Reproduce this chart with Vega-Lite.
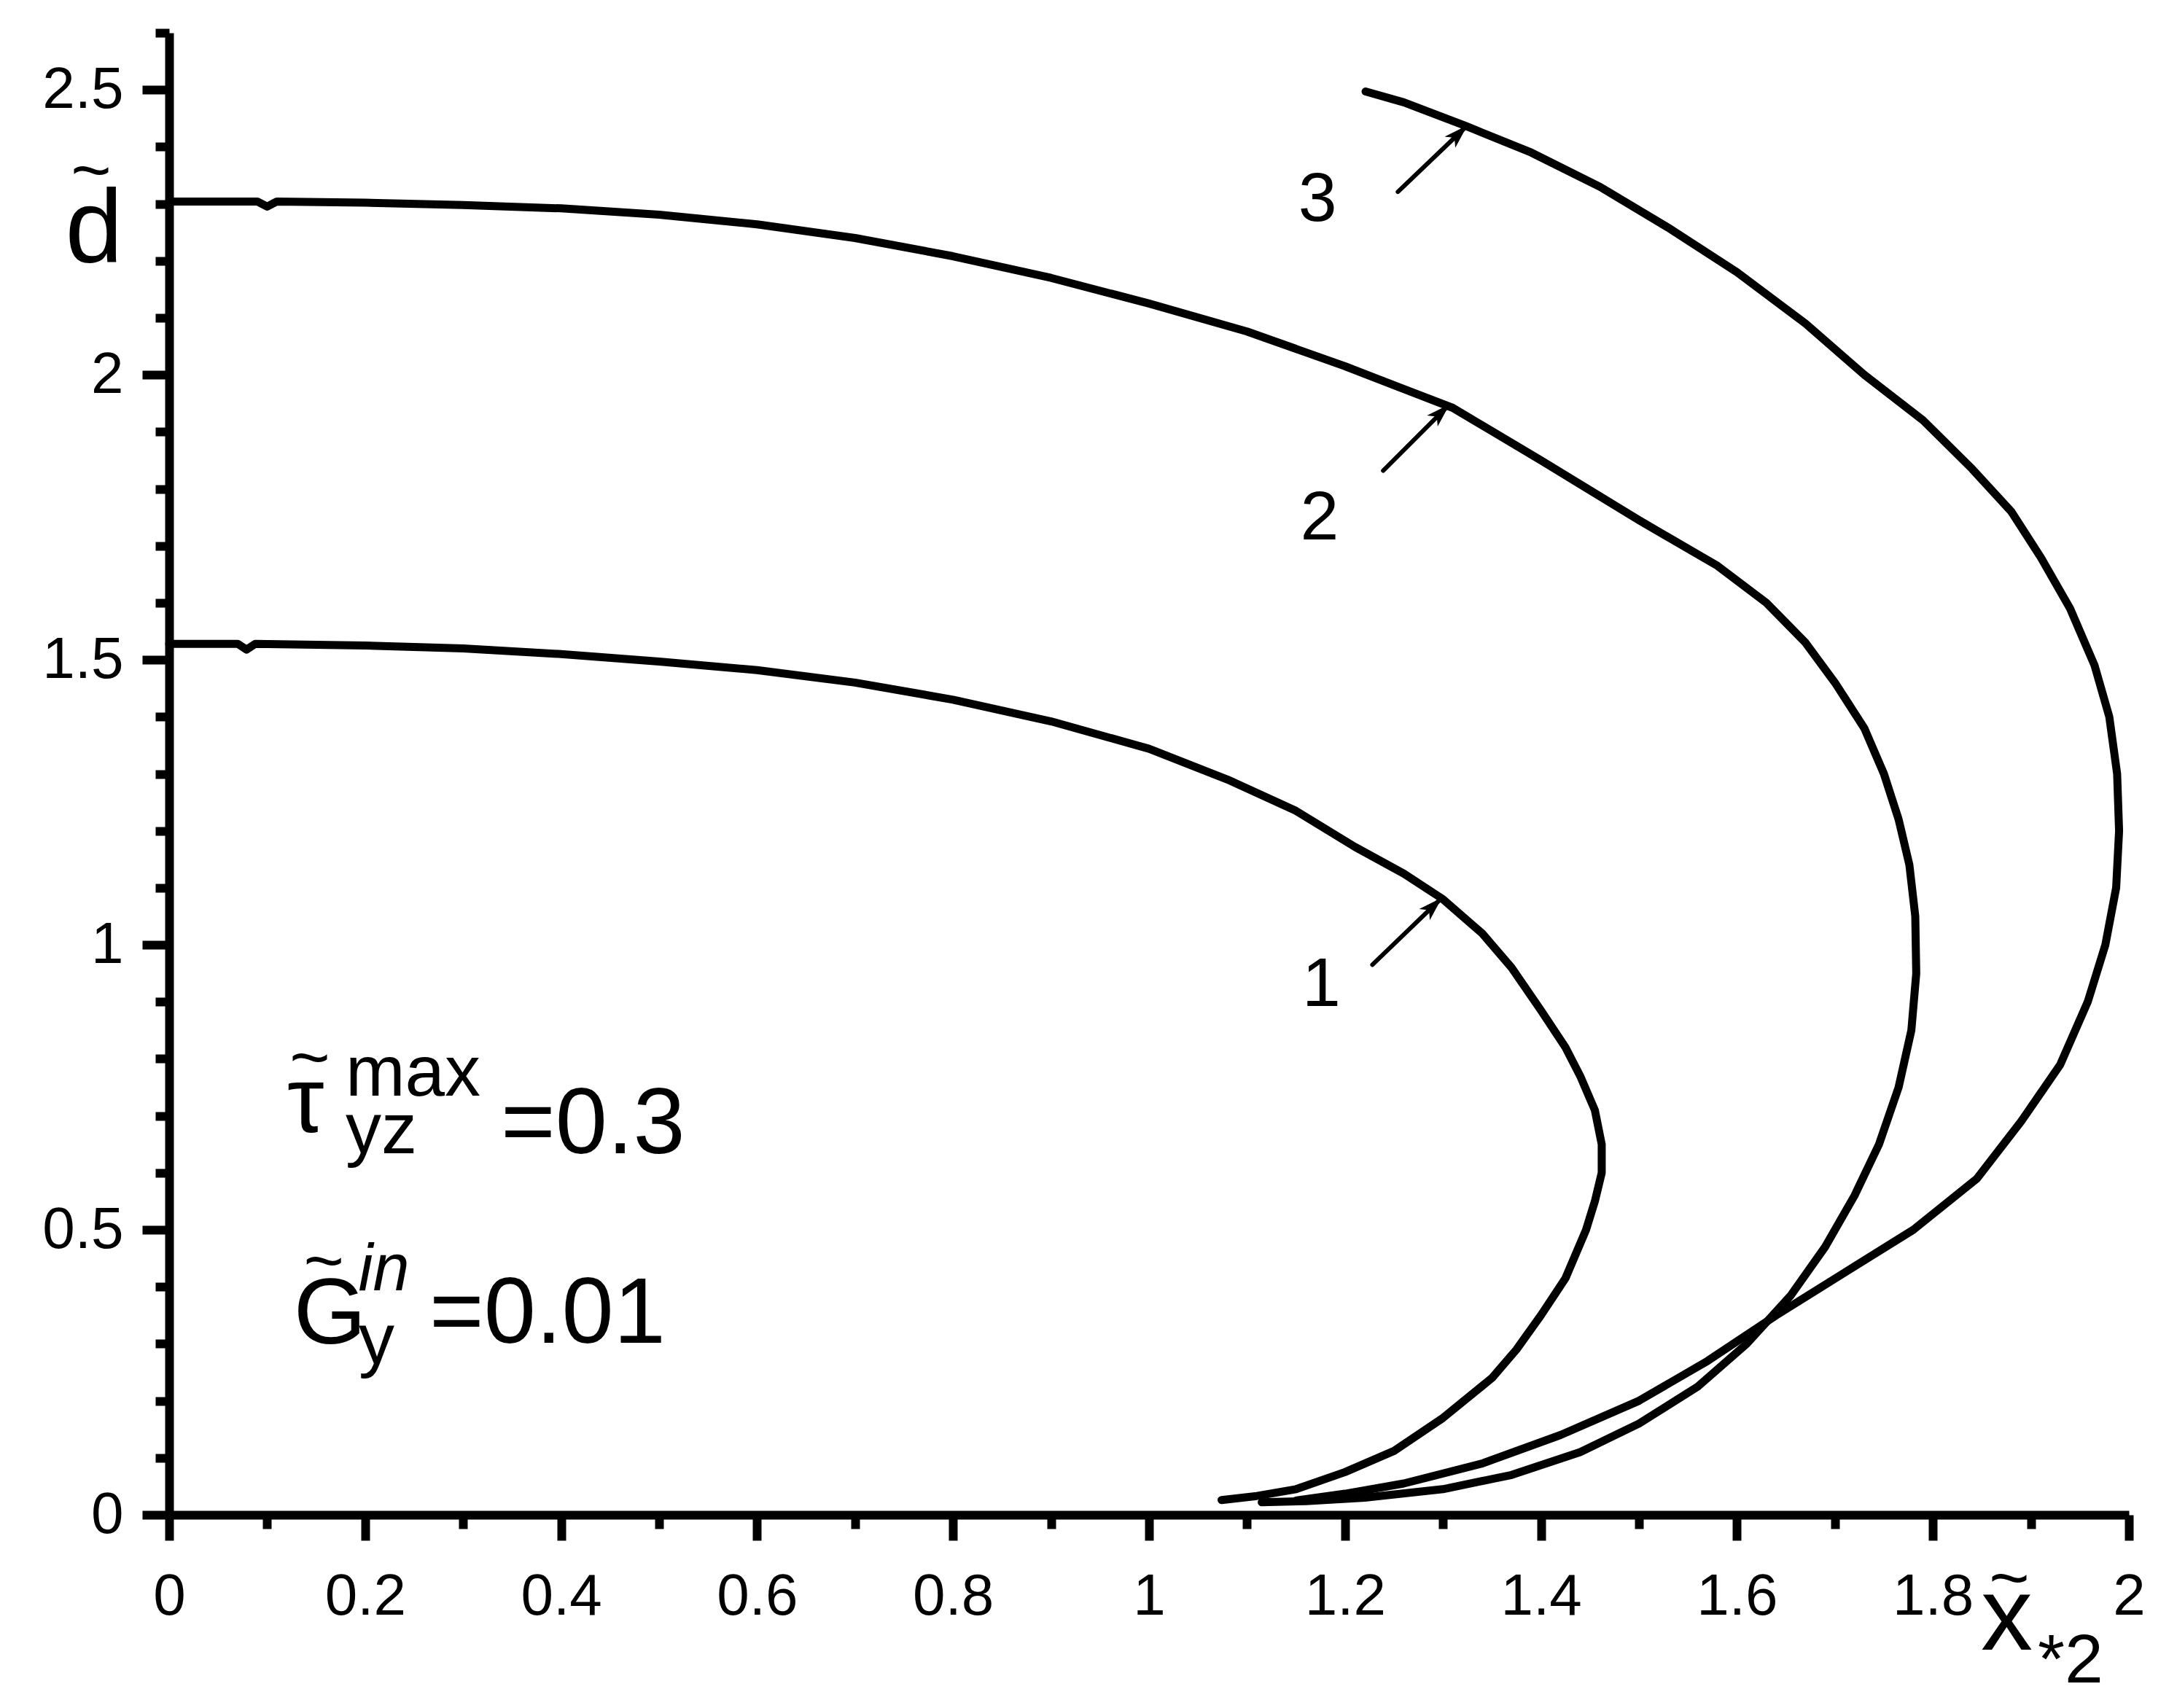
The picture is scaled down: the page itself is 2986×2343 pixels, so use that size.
{
  "$schema": "https://vega.github.io/schema/vega-lite/v6.json",
  "width": 2688,
  "height": 2033,
  "autosize": {"type": "none"},
  "padding": {"left": 232, "top": 45, "right": 66, "bottom": 265},
  "background": "white",
  "config": {"view": {"stroke": null}, "font": "Liberation Sans"},
  "datasets": {
    "curves": [
      {"curve": 1, "i": 0, "x": 0, "y": 1.528}, {"curve": 1, "i": 1, "x": 0.07, "y": 1.528}, {"curve": 1, "i": 2, "x": 0.079, "y": 1.518}, {"curve": 1, "i": 3, "x": 0.088, "y": 1.528}, {"curve": 1, "i": 4, "x": 0.2, "y": 1.525}, {"curve": 1, "i": 5, "x": 0.3, "y": 1.52}, {"curve": 1, "i": 6, "x": 0.4, "y": 1.51}, {"curve": 1, "i": 7, "x": 0.5, "y": 1.497}, {"curve": 1, "i": 8, "x": 0.6, "y": 1.482}, {"curve": 1, "i": 9, "x": 0.7, "y": 1.46}, {"curve": 1, "i": 10, "x": 0.8, "y": 1.43}, {"curve": 1, "i": 11, "x": 0.9, "y": 1.392}, {"curve": 1, "i": 12, "x": 1.0, "y": 1.344}, {"curve": 1, "i": 13, "x": 1.08, "y": 1.29}, {"curve": 1, "i": 14, "x": 1.15, "y": 1.235}, {"curve": 1, "i": 15, "x": 1.21, "y": 1.172}, {"curve": 1, "i": 16, "x": 1.26, "y": 1.125}, {"curve": 1, "i": 17, "x": 1.3, "y": 1.08}, {"curve": 1, "i": 18, "x": 1.34, "y": 1.02}, {"curve": 1, "i": 19, "x": 1.37, "y": 0.96}, {"curve": 1, "i": 20, "x": 1.4, "y": 0.885}, {"curve": 1, "i": 21, "x": 1.425, "y": 0.82}, {"curve": 1, "i": 22, "x": 1.44, "y": 0.77}, {"curve": 1, "i": 23, "x": 1.455, "y": 0.71}, {"curve": 1, "i": 24, "x": 1.462, "y": 0.65}, {"curve": 1, "i": 25, "x": 1.462, "y": 0.6}, {"curve": 1, "i": 26, "x": 1.455, "y": 0.55}, {"curve": 1, "i": 27, "x": 1.446, "y": 0.5}, {"curve": 1, "i": 28, "x": 1.425, "y": 0.415}, {"curve": 1, "i": 29, "x": 1.4, "y": 0.35}, {"curve": 1, "i": 30, "x": 1.375, "y": 0.29}, {"curve": 1, "i": 31, "x": 1.35, "y": 0.24}, {"curve": 1, "i": 32, "x": 1.3, "y": 0.17}, {"curve": 1, "i": 33, "x": 1.25, "y": 0.112}, {"curve": 1, "i": 34, "x": 1.2, "y": 0.075}, {"curve": 1, "i": 35, "x": 1.15, "y": 0.045}, {"curve": 1, "i": 36, "x": 1.11, "y": 0.033}, {"curve": 1, "i": 37, "x": 1.074, "y": 0.026},
      {"curve": 2, "i": 0, "x": 0, "y": 2.304}, {"curve": 2, "i": 1, "x": 0.09, "y": 2.304}, {"curve": 2, "i": 2, "x": 0.1, "y": 2.295}, {"curve": 2, "i": 3, "x": 0.11, "y": 2.304}, {"curve": 2, "i": 4, "x": 0.2, "y": 2.302}, {"curve": 2, "i": 5, "x": 0.3, "y": 2.298}, {"curve": 2, "i": 6, "x": 0.4, "y": 2.292}, {"curve": 2, "i": 7, "x": 0.5, "y": 2.281}, {"curve": 2, "i": 8, "x": 0.6, "y": 2.264}, {"curve": 2, "i": 9, "x": 0.7, "y": 2.24}, {"curve": 2, "i": 10, "x": 0.8, "y": 2.208}, {"curve": 2, "i": 11, "x": 0.9, "y": 2.17}, {"curve": 2, "i": 12, "x": 1.0, "y": 2.125}, {"curve": 2, "i": 13, "x": 1.1, "y": 2.076}, {"curve": 2, "i": 14, "x": 1.2, "y": 2.015}, {"curve": 2, "i": 15, "x": 1.26, "y": 1.975}, {"curve": 2, "i": 16, "x": 1.31, "y": 1.942}, {"curve": 2, "i": 17, "x": 1.4, "y": 1.85}, {"curve": 2, "i": 18, "x": 1.5, "y": 1.745}, {"curve": 2, "i": 19, "x": 1.58, "y": 1.665}, {"curve": 2, "i": 20, "x": 1.63, "y": 1.6}, {"curve": 2, "i": 21, "x": 1.67, "y": 1.53}, {"curve": 2, "i": 22, "x": 1.7, "y": 1.46}, {"curve": 2, "i": 23, "x": 1.73, "y": 1.38}, {"curve": 2, "i": 24, "x": 1.75, "y": 1.3}, {"curve": 2, "i": 25, "x": 1.765, "y": 1.22}, {"curve": 2, "i": 26, "x": 1.776, "y": 1.14}, {"curve": 2, "i": 27, "x": 1.782, "y": 1.05}, {"curve": 2, "i": 28, "x": 1.783, "y": 0.95}, {"curve": 2, "i": 29, "x": 1.778, "y": 0.85}, {"curve": 2, "i": 30, "x": 1.765, "y": 0.75}, {"curve": 2, "i": 31, "x": 1.745, "y": 0.65}, {"curve": 2, "i": 32, "x": 1.72, "y": 0.56}, {"curve": 2, "i": 33, "x": 1.69, "y": 0.47}, {"curve": 2, "i": 34, "x": 1.655, "y": 0.385}, {"curve": 2, "i": 35, "x": 1.61, "y": 0.3}, {"curve": 2, "i": 36, "x": 1.56, "y": 0.225}, {"curve": 2, "i": 37, "x": 1.5, "y": 0.16}, {"curve": 2, "i": 38, "x": 1.44, "y": 0.11}, {"curve": 2, "i": 39, "x": 1.37, "y": 0.07}, {"curve": 2, "i": 40, "x": 1.3, "y": 0.045}, {"curve": 2, "i": 41, "x": 1.22, "y": 0.03}, {"curve": 2, "i": 42, "x": 1.16, "y": 0.024}, {"curve": 2, "i": 43, "x": 1.115, "y": 0.022},
      {"curve": 3, "i": 0, "x": 1.221, "y": 2.497}, {"curve": 3, "i": 1, "x": 1.26, "y": 2.478}, {"curve": 3, "i": 2, "x": 1.324, "y": 2.436}, {"curve": 3, "i": 3, "x": 1.39, "y": 2.39}, {"curve": 3, "i": 4, "x": 1.46, "y": 2.33}, {"curve": 3, "i": 5, "x": 1.53, "y": 2.258}, {"curve": 3, "i": 6, "x": 1.6, "y": 2.18}, {"curve": 3, "i": 7, "x": 1.67, "y": 2.09}, {"curve": 3, "i": 8, "x": 1.73, "y": 2.0}, {"curve": 3, "i": 9, "x": 1.79, "y": 1.92}, {"curve": 3, "i": 10, "x": 1.84, "y": 1.835}, {"curve": 3, "i": 11, "x": 1.88, "y": 1.76}, {"curve": 3, "i": 12, "x": 1.91, "y": 1.68}, {"curve": 3, "i": 13, "x": 1.94, "y": 1.59}, {"curve": 3, "i": 14, "x": 1.965, "y": 1.49}, {"curve": 3, "i": 15, "x": 1.98, "y": 1.4}, {"curve": 3, "i": 16, "x": 1.988, "y": 1.3}, {"curve": 3, "i": 17, "x": 1.99, "y": 1.2}, {"curve": 3, "i": 18, "x": 1.987, "y": 1.1}, {"curve": 3, "i": 19, "x": 1.976, "y": 1.0}, {"curve": 3, "i": 20, "x": 1.958, "y": 0.9}, {"curve": 3, "i": 21, "x": 1.93, "y": 0.79}, {"curve": 3, "i": 22, "x": 1.89, "y": 0.69}, {"curve": 3, "i": 23, "x": 1.845, "y": 0.59}, {"curve": 3, "i": 24, "x": 1.78, "y": 0.5}, {"curve": 3, "i": 25, "x": 1.71, "y": 0.425}, {"curve": 3, "i": 26, "x": 1.64, "y": 0.35}, {"curve": 3, "i": 27, "x": 1.57, "y": 0.27}, {"curve": 3, "i": 28, "x": 1.5, "y": 0.2}, {"curve": 3, "i": 29, "x": 1.42, "y": 0.14}, {"curve": 3, "i": 30, "x": 1.34, "y": 0.09}, {"curve": 3, "i": 31, "x": 1.26, "y": 0.055}, {"curve": 3, "i": 32, "x": 1.2, "y": 0.037}, {"curve": 3, "i": 33, "x": 1.15, "y": 0.025}
    ],
    "arrows": [
      {"arrow": 1, "i": 0, "x": 1.228, "y": 0.965}, {"arrow": 1, "i": 1, "x": 1.298, "y": 1.081},
      {"arrow": 2, "i": 0, "x": 1.239, "y": 1.832}, {"arrow": 2, "i": 1, "x": 1.306, "y": 1.947},
      {"arrow": 3, "i": 0, "x": 1.254, "y": 2.321}, {"arrow": 3, "i": 1, "x": 1.324, "y": 2.436}
    ],
    "heads": [
      {"arrow": 1, "x": 1.298, "y": 1.081},
      {"arrow": 2, "x": 1.306, "y": 1.947},
      {"arrow": 3, "x": 1.324, "y": 2.436}
    ],
    "curveLabels": [
      {"t": "1", "x": 1.176, "y": 0.893},
      {"t": "2", "x": 1.174, "y": 1.711},
      {"t": "3", "x": 1.172, "y": 2.27}
    ],
    "bigText": [
      {"t": "τ", "x": 0.1205, "y": 0.671},
      {"t": "=0.3", "x": 0.3385, "y": 0.634},
      {"t": "G", "x": 0.127, "y": 0.3005},
      {"t": "=0.01", "x": 0.2656, "y": 0.302}
    ],
    "smallText": [
      {"t": "max", "x": 0.18, "y": 0.735},
      {"t": "yz", "x": 0.18, "y": 0.634},
      {"t": "y", "x": 0.1935, "y": 0.265}
    ],
    "italicText": [
      {"t": "in", "x": 0.193, "y": 0.394}
    ],
    "tildes": [
      {"t": "~", "x": 0.1436, "y": 0.761},
      {"t": "~", "x": 0.158, "y": 0.404},
      {"t": "~", "x": 1.878, "y": -0.152},
      {"t": "~", "x": -0.0796, "y": 2.318}
    ],
    "titleBig": [
      {"t": "x", "x": 1.849, "y": -0.237},
      {"t": "d", "x": -0.106, "y": 2.197}
    ],
    "titleSub": [
      {"t": "*2", "x": 1.907, "y": -0.294}
    ]
  },
  "encoding": {
    "x": {
      "field": "x", "type": "quantitative",
      "scale": {"domain": [0, 2], "nice": false, "zero": false},
      "axis": {
        "title": null, "grid": false,
        "values": [0, 0.1, 0.2, 0.3, 0.4, 0.5, 0.6, 0.7, 0.8, 0.9, 1, 1.1, 1.2, 1.3, 1.4, 1.5, 1.6, 1.7, 1.8, 1.9, 2],
        "labelExpr": "round(datum.value*10) % 2 == 0 ? format(datum.value, '.1~f') : ''",
        "domainColor": "black", "domainWidth": 12,
        "tickColor": "black", "tickWidth": 12,
        "tickSize": {"condition": {"test": "round(datum.value*10) % 2 == 0", "value": 35}, "value": 19},
        "labelFont": "Liberation Sans", "labelFontSize": 80, "labelColor": "black",
        "labelPadding": 38, "labelFlush": false, "labelOverlap": false, "labelBound": false
      }
    },
    "y": {
      "field": "y", "type": "quantitative",
      "scale": {"domain": [0, 2.6], "nice": false, "zero": false},
      "axis": {
        "title": null, "grid": false,
        "values": [0, 0.1, 0.2, 0.3, 0.4, 0.5, 0.6, 0.7, 0.8, 0.9, 1, 1.1, 1.2, 1.3, 1.4, 1.5, 1.6, 1.7, 1.8, 1.9, 2, 2.1, 2.2, 2.3, 2.4, 2.5, 2.6],
        "labelExpr": "round(datum.value*10) % 5 == 0 ? format(datum.value, '.1~f') : ''",
        "domainColor": "black", "domainWidth": 12,
        "tickColor": "black", "tickWidth": 12,
        "tickSize": {"condition": {"test": "round(datum.value*10) % 5 == 0", "value": 37}, "value": 19},
        "labelFont": "Liberation Sans", "labelFontSize": 80, "labelColor": "black",
        "labelPadding": 26, "labelFlush": false, "labelOverlap": false, "labelBound": false
      }
    }
  },
  "layer": [
    {
      "data": {"name": "curves"},
      "mark": {"type": "line", "color": "black", "strokeWidth": 11, "strokeJoin": "round", "strokeCap": "round"},
      "encoding": {"detail": {"field": "curve", "type": "nominal"}, "order": {"field": "i", "type": "quantitative"}}
    },
    {
      "data": {"name": "arrows"},
      "mark": {"type": "line", "color": "black", "strokeWidth": 6, "strokeCap": "round"},
      "encoding": {"detail": {"field": "arrow", "type": "nominal"}, "order": {"field": "i", "type": "quantitative"}}
    },
    {
      "data": {"name": "heads"},
      "mark": {"type": "point", "shape": "M0,0 L0.6,1.9 L0,1.4 L-0.6,1.9 Z", "filled": true, "fill": "black", "stroke": "black", "opacity": 1, "fillOpacity": 1, "size": 1000, "angle": 46, "strokeWidth": 1}
    },
    {
      "data": {"name": "curveLabels"},
      "mark": {"type": "text", "font": "Liberation Sans", "fontSize": 95, "align": "center", "baseline": "alphabetic", "color": "black"},
      "encoding": {"text": {"field": "t"}}
    },
    {
      "data": {"name": "bigText"},
      "mark": {"type": "text", "font": "Liberation Sans", "fontSize": 128, "align": "left", "baseline": "alphabetic", "color": "black"},
      "encoding": {"text": {"field": "t"}}
    },
    {
      "data": {"name": "smallText"},
      "mark": {"type": "text", "font": "Liberation Sans", "fontSize": 98, "align": "left", "baseline": "alphabetic", "color": "black"},
      "encoding": {"text": {"field": "t"}}
    },
    {
      "data": {"name": "italicText"},
      "mark": {"type": "text", "font": "Liberation Sans", "fontSize": 90, "fontStyle": "italic", "align": "left", "baseline": "alphabetic", "color": "black"},
      "encoding": {"text": {"field": "t"}}
    },
    {
      "data": {"name": "tildes"},
      "mark": {"type": "text", "font": "Liberation Sans", "fontSize": 95, "align": "center", "baseline": "alphabetic", "color": "black"},
      "encoding": {"text": {"field": "t"}}
    },
    {
      "data": {"name": "titleBig"},
      "mark": {"type": "text", "font": "Liberation Sans", "fontSize": 142, "align": "left", "baseline": "alphabetic", "color": "black"},
      "encoding": {"text": {"field": "t"}}
    },
    {
      "data": {"name": "titleSub"},
      "mark": {"type": "text", "font": "Liberation Sans", "fontSize": 95, "align": "left", "baseline": "alphabetic", "color": "black"},
      "encoding": {"text": {"field": "t"}}
    }
  ]
}
